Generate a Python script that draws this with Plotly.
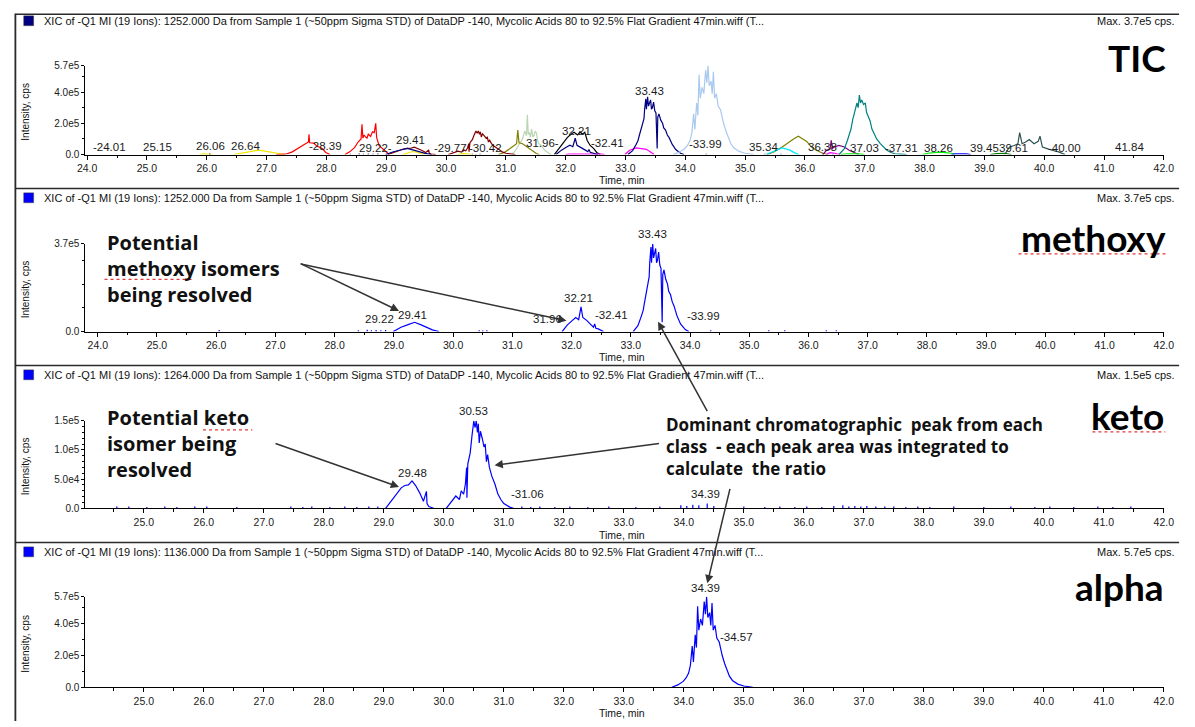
import plotly.graph_objects as go

W, H = 1195, 727

# ======================= DATA =======================
# Methoxy XIC (1252.000 Da) -- also the navy trace in the TIC
methoxy_t = [28.99, 29.12, 29.24, 29.35, 29.46, 29.57, 29.65, 29.76, None,
             31.84, 31.93, 32.01, 32.07, 32.12, 32.16, 32.19, 32.26, 32.33, 32.37, 32.39, 32.41, 32.45, 32.54, None,
             33.04, 33.12, 33.18, 33.21, 33.23, 33.26, 33.29, 33.31, 33.32, 33.34, 33.35, 33.37, 33.385, 33.40,
             33.42, 33.435, 33.45, 33.47, 33.49, 33.51, 33.53, 33.54, 33.56, 33.59, 33.62, 33.64, 33.67, 33.70,
             33.73, 33.78, 33.84, 33.92, 33.98]
methoxy_i = [0, 1.8e4, 2.9e4, 3.9e4, 2.8e4, 1.5e4, 7e3, 0, None,
             0, 2.8e4, 4.6e4, 5.9e4, 5.0e4, 1.04e5, 5.9e4, 4.6e4, 2.8e4, 1.8e4, 3.2e4, 1.4e4, 1.1e4, 0, None,
             0, 2.5e4, 6.6e4, 9.0e4, 1.2e5, 1.6e5, 2.1e5, 2.3e5, 2.9e5, 3.56e5, 2.9e5, 3.7e5, 3.1e5, 3.35e5,
             3.5e5, 2.9e5, 3.0e5, 3.35e5, 2.8e5, 2.66e5, 3.9e4, 2.4e5, 2.6e5, 2.2e5, 2.0e5, 1.7e5, 1.56e5, 1.25e5,
             1.08e5, 6.6e4, 3.2e4, 8e3, 0]
methoxy_blip_t = [26.05, 28.40, 28.55, 28.62, 28.70, 28.78, 28.86, 30.44, 30.50, 30.57, 34.35, 35.33, 35.60, 36.30, 36.47]
methoxy_blip_i = [6e3, 5e3, 7e3, 5e3, 6e3, 5e3, 6e3, 5e3, 4e3, 5e3, 5e3, 5e3, 5e3, 5e3, 5e3]

# Keto XIC (1264.000 Da) -- also the maroon trace in the TIC
keto_t = [29.03, 29.16, 29.29, 29.35, 29.41, 29.47, 29.53, 29.60, 29.66, 29.71, 29.72, 29.75, 29.83, None,
          30.04, 30.12, 30.20, 30.26, 30.29, 30.33, 30.36, 30.38, 30.385, 30.40, 30.44, 30.47, 30.50, 30.52,
          30.54, 30.56, 30.575, 30.59, 30.61, 30.64, 30.67, 30.69, 30.71, 30.73, 30.76, 30.80, 30.85, 30.90,
          30.95, 31.00, 31.06, 31.10, 31.16]
keto_i = [0, 1.8e4, 3.5e4, 3.9e4, 4.0e4, 4.7e4, 3.9e4, 2.6e4, 1.2e4, 2.9e4, 8e3, 3e3, 0, None,
          0, 1.0e4, 2.1e4, 1.5e4, 3.0e4, 2.4e4, 4.2e4, 7.0e4, 1.8e4, 7.6e4, 9.5e4, 1.25e5, 1.5e5, 1.38e5,
          1.5e5, 1.3e5, 1.45e5, 1.12e5, 1.32e5, 1.2e5, 1.05e5, 1.1e5, 8.0e4, 9.2e4, 7.0e4, 5.5e4, 4.2e4, 2.5e4,
          1.5e4, 8e3, 4e3, 2e3, 0]
keto_blip_t = [24.55, 24.75, 25.05, 25.35, 25.55, 25.85, 26.05, 26.55, 27.45, 27.65, 27.80, 28.10, 28.35,
               28.55, 28.75, 28.90, 31.30, 31.45, 31.60, 31.85, 32.10, 32.40, 32.75, 33.20, 33.60, 33.95,
               34.05, 34.15, 34.25, 34.39, 34.50, 35.00, 35.35, 35.60, 35.85, 36.05, 36.30, 36.50, 36.65,
               36.75, 36.85, 36.95, 37.05, 37.20, 37.35, 37.50, 37.70, 37.90, 38.10, 38.50, 39.00, 39.45,
               39.85, 40.10, 40.50, 40.90, 41.15, 41.45]
keto_blip_i = [3e3, 3e3, 2e3, 3e3, 2e3, 3e3, 3e3, 2e3, 3e3, 2e3, 3e3, 2e3, 3e3,
               2e3, 3e3, 3e3, 3e3, 2e3, 3e3, 2e3, 3e3, 2e3, 3e3, 2e3, 3e3, 5e3,
               4e3, 6e3, 5e3, 8e3, 4e3, 3e3, 2e3, 3e3, 2e3, 3e3, 2e3, 4e3, 5e3,
               3e3, 4e3, 3e3, 4e3, 3e3, 3e3, 3e3, 2e3, 3e3, 2e3, 3e3, 2e3, 3e3,
               2e3, 3e3, 2e3, 3e3, 2e3, 3e3]

# Alpha XIC (1136.000 Da) -- also the light-blue trace in the TIC
alpha_t = [33.80, 33.90, 33.99, 34.04, 34.08, 34.11, 34.14, 34.16, 34.19, 34.21, 34.23, 34.25, 34.28,
           34.31, 34.34, 34.36, 34.38, 34.40, 34.43, 34.45, 34.47, 34.49, 34.52, 34.55, 34.59, 34.62,
           34.64, 34.68, 34.71, 34.76, 34.81, 34.90, 35.00, 35.15]
alpha_i = [0, 1.5e4, 3.7e4, 6.0e4, 8.9e4, 1.4e5, 2.6e5, 1.6e5, 3.3e5, 2.5e5, 5.1e5, 3.6e5, 4.3e5,
           3.9e5, 5.4e5, 4.6e5, 5.7e5, 4.4e5, 4.7e5, 3.9e5, 5.3e5, 3.6e5, 3.9e5, 3.1e5, 2.85e5, 2.3e5,
           2.0e5, 1.5e5, 1.2e5, 7e4, 4.3e4, 2.0e4, 8e3, 0]

# Other TIC ion traces
tic_yellow_t = [25.88, 25.95, 26.02, 26.10, None, 26.45, 26.55, 26.65, 26.75, 26.82, 26.88, 26.95, 27.02,
                27.10, 27.20, 27.30, None, 29.28, 29.36, 29.44, 29.50, 29.56, 29.64, None, 30.20, 30.28, 30.36, 30.42]
tic_yellow_i = [0, 4e3, 3e3, 0, None, 0, 8e3, 1.4e4, 2.2e4, 2.5e4, 2.8e4, 2.3e4, 1.8e4,
                1.0e4, 5e3, 0, None, 0, 1.2e4, 1.9e4, 1.6e4, 1.0e4, 0, None, 0, 6e3, 4e3, 0]
tic_red_t = [27.16, 27.25, 27.32, 27.43, 27.52, 27.60, 27.65, 27.70, 27.71, 27.72, 27.79, 27.84, 27.93,
             27.99, 28.06, None, 28.31, 28.39, 28.47, 28.53, 28.58, 28.595, 28.61, 28.63, 28.66, 28.68,
             28.70, 28.72, 28.74, 28.77, 28.80, 28.825, 28.84, 28.88, 28.94, 28.99, 29.05]
tic_red_i = [0, 3e3, 2e3, 1.7e4, 3.8e4, 5.8e4, 6.9e4, 8.0e4, 1.3e5, 7.5e4, 7.3e4, 5.4e4, 3.8e4,
             1.3e4, 0, None, 0, 1.7e4, 4.4e4, 8.0e4, 1.0e5, 1.94e5, 1.05e5, 1.25e5, 1.1e5, 1.05e5,
             1.3e5, 1.2e5, 1.15e5, 1.45e5, 1.4e5, 2.0e5, 1.1e5, 5.8e4, 3.8e4, 1.7e4, 0]
tic_sage_t = [31.10, 31.16, 31.21, 31.25, 31.28, 31.30, 31.32, 31.345, 31.36, 31.375, 31.39, 31.41,
              31.43, 31.45, 31.47, 31.49, 31.51, 31.53, 31.55, 31.59, 31.65, 31.72, 31.76]
tic_sage_i = [0, 2.5e4, 5.8e4, 8.5e4, 1.0e5, 1.3e5, 1.5e5, 1.2e5, 2.55e5, 1.3e5, 1.42e5, 1.1e5,
              1.63e5, 1.15e5, 1.2e5, 1.5e5, 1.4e5, 9.0e4, 6.9e4, 5.8e4, 2.7e4, 8e3, 0]
tic_olive_t = [30.88, 30.99, 31.07, 31.13, 31.18, 31.20, 31.22, 31.28, 31.35, 31.43, 31.51, 31.56, None,
               35.37, 35.48, 35.62, 35.73, 35.81, 35.89, 35.94, 36.03, 36.11, 36.19, 36.30, 36.38]
tic_olive_i = [0, 1.7e4, 3.8e4, 5.8e4, 6.9e4, 1.57e5, 7.5e4, 6.9e4, 4.8e4, 2.7e4, 6e3, 0, None,
               0, 1.7e4, 4.8e4, 8.0e4, 1.0e5, 1.17e5, 1.05e5, 8.4e4, 4.8e4, 2.7e4, 8e3, 0]
tic_black_t = [31.81, 31.89, 31.97, 32.03, 32.09, 32.14, 32.20, 32.24, 32.28, 32.32, 32.36, 32.41, 32.47, 32.52, 32.58]
tic_black_i = [0, 3.8e4, 8.0e4, 1.1e5, 1.3e5, 1.42e5, 1.25e5, 1.46e5, 1.3e5, 1.42e5, 9.0e4, 5.8e4, 3.8e4, 1.3e4, 0]
tic_magenta_t = [32.00, 32.05, 32.60, 32.65, None, 32.99, 33.07, 33.18, 33.26, 33.35, 33.43, 33.48, None,
                 36.36, 36.42, 36.50, 36.58]
tic_magenta_i = [0, 3e3, 3e3, 0, None, 0, 2.7e4, 4.2e4, 3.8e4, 3.3e4, 1.3e4, 0, None,
                 0, 1.2e4, 8e3, 0]
tic_cyan_t = [35.35, 35.45, 35.55, 35.62, 35.68, 35.75, 35.82, 35.90]
tic_cyan_i = [0, 1.5e4, 3.0e4, 4.2e4, 3.6e4, 2.8e4, 1.2e4, 0]
tic_purple_t = [36.30, 36.36, 36.42, 36.44, 36.46, 36.49, 36.57, 36.66, 36.74, 36.82, 36.90]
tic_purple_i = [0, 2.7e4, 3.5e4, 9.0e4, 3.8e4, 4.8e4, 5.8e4, 4.8e4, 2.7e4, 1.3e4, 0]
tic_teal_t = [36.57, 36.66, 36.71, 36.77, 36.80, 36.84, 36.87, 36.89, 36.91, 36.93, 36.95, 36.98, 37.01,
              37.03, 37.06, 37.09, 37.12, 37.16, 37.20, 37.26, 37.31, 37.37, 37.44, 37.50, 37.60, 37.70]
tic_teal_i = [0, 3.8e4, 9.0e4, 1.63e5, 2.25e5, 2.9e5, 3.3e5, 3.0e5, 3.8e5, 3.3e5, 3.5e5, 3.2e5, 3.3e5,
              2.7e5, 2.46e5, 2.15e5, 1.63e5, 1.3e5, 1.0e5, 6.9e4, 4.8e4, 2.7e4, 1.3e4, 5e3, 3e3, 0]
tic_lime_t = [36.60, 36.70, 36.90, 37.00, None, 37.97, 38.05, 38.15, 38.25, 38.35, 38.45, 38.50]
tic_lime_i = [0, 4e3, 4e3, 0, None, 0, 8e3, 1.2e4, 1.5e4, 1.2e4, 8e3, 0]
tic_blue_t = [38.45, 38.50, 38.70, 38.77]
tic_blue_i = [0, 4e3, 4e3, 0]
tic_dkgreen_t = [39.10, 39.20, 39.35, 39.45]
tic_dkgreen_i = [0, 6e3, 8e3, 0]
tic_slate_t = [39.34, 39.42, 39.50, 39.56, 39.59, 39.63, 39.69, 39.75, 39.83, 39.90, 39.93, 39.97,
               40.05, 40.13, 40.24, 40.35]
tic_slate_i = [0, 4.8e4, 5.8e4, 6.9e4, 1.4e5, 6.9e4, 8.0e4, 9.6e4, 6.9e4, 8.4e4, 1.17e5, 4.8e4,
               3.8e4, 2.7e4, 1.7e4, 0]

# start-of-trace markers (time, intensity) per panel
start_marker_t = [23.92, 23.74, 23.975, 23.975]
start_marker_i = [3.0e4, 2.1e4, 8.5e3, 3.1e4]

# peak retention-time labels (text, time, intensity)
tic_labels = [("-24.01", 24.38, 5.0e4), ("25.15", 25.18, 5.0e4), ("26.06", 26.06, 5.6e4),
              ("26.64", 26.65, 5.6e4), ("-28.39", 27.98, 5.6e4), ("29.22-", 28.82, 4.4e4),
              ("29.41", 29.40, 9.4e4), ("-29.77", 30.08, 4.4e4), ("-30.42", 30.66, 4.4e4),
              ("31.96-", 31.62, 7.5e4), ("32.21", 32.18, 1.5e5), ("-32.41", 32.70, 7.5e4),
              ("33.43", 33.41, 4.09e5), ("-33.99", 34.33, 6.5e4), ("35.34", 35.31, 5.0e4),
              ("36.38", 36.30, 5.0e4), ("37.03", 36.99, 4.4e4), ("-37.31", 37.61, 4.4e4),
              ("38.26", 38.24, 4.4e4), ("39.45", 39.01, 4.4e4), ("39.61", 39.49, 4.4e4),
              ("-40.00", 40.34, 4.4e4), ("41.84", 41.42, 5.0e4)]
methoxy_labels = [("29.22", 28.75, 5.4e4), ("29.41", 29.32, 7.0e4), ("31.96", 31.60, 5.1e4),
                  ("32.21", 32.12, 1.41e5), ("-32.41", 32.68, 7.0e4), ("33.43", 33.36, 4.11e5),
                  ("-33.99", 34.22, 6.6e4)]
keto_labels = [("29.48", 29.47, 6.0e4), ("30.53", 30.50, 1.66e5), ("-31.06", 31.40, 2.4e4),
               ("34.39", 34.36, 2.4e4)]
alpha_labels = [("34.39", 34.36, 6.26e5), ("-34.57", 34.88, 3.16e5)]

x_ticks = list(range(24, 43))
x_ticktext = [f"{v}.0" for v in x_ticks]

headers = ["XIC of -Q1 MI (19 Ions): 1252.000 Da from Sample 1 (~50ppm Sigma STD) of DataDP -140, Mycolic Acids 80 to 92.5% Flat Gradient 47min.wiff (T...",
           "XIC of -Q1 MI (19 Ions): 1252.000 Da from Sample 1 (~50ppm Sigma STD) of DataDP -140, Mycolic Acids 80 to 92.5% Flat Gradient 47min.wiff (T...",
           "XIC of -Q1 MI (19 Ions): 1264.000 Da from Sample 1 (~50ppm Sigma STD) of DataDP -140, Mycolic Acids 80 to 92.5% Flat Gradient 47min.wiff (T...",
           "XIC of -Q1 MI (19 Ions): 1136.000 Da from Sample 1 (~50ppm Sigma STD) of DataDP -140, Mycolic Acids 80 to 92.5% Flat Gradient 47min.wiff (T..."]
max_texts = ["Max. 3.7e5 cps.", "Max. 3.7e5 cps.", "Max. 1.5e5 cps.", "Max. 5.7e5 cps."]
panel_names = ["TIC", "methoxy", "keto", "alpha"]

# ======================= LAYOUT HELPERS =======================
def px(x):
    return x / W

def py(y):
    return 1 - y / H

def with_blips(t, i, bt, bi):
    tt, ii = list(t), list(i)
    for a, b in zip(bt, bi):
        tt += [None, a, a]
        ii += [None, 0, b]
    return tt, ii

fig = go.Figure()

def add_line(t, i, color, n, width=1.2):
    xa = "x" if n == 1 else f"x{n}"
    ya = "y" if n == 1 else f"y{n}"
    fig.add_trace(go.Scatter(x=t, y=i, mode="lines", line=dict(color=color, width=width),
                             xaxis=xa, yaxis=ya, hoverinfo="skip", showlegend=False,
                             connectgaps=False))

meth_t, meth_i = with_blips(methoxy_t, methoxy_i, methoxy_blip_t, methoxy_blip_i)
ket_t, ket_i = with_blips(keto_t, keto_i, keto_blip_t, keto_blip_i)

# TIC panel
add_line(tic_yellow_t, tic_yellow_i, "#f2e600", 1)
add_line(tic_red_t, tic_red_i, "#ff0000", 1)
add_line(tic_sage_t, tic_sage_i, "#b9d6b3", 1)
add_line(tic_olive_t, tic_olive_i, "#808000", 1)
add_line(keto_t, keto_i, "#800000", 1)
add_line(tic_black_t, tic_black_i, "#000000", 1)
add_line(tic_magenta_t, tic_magenta_i, "#ff00ff", 1)
add_line(meth_t, meth_i, "#000080", 1)
add_line(alpha_t, alpha_i, "#a9c9ee", 1)
add_line(tic_cyan_t, tic_cyan_i, "#00e5ff", 1)
add_line(tic_purple_t, tic_purple_i, "#800080", 1)
add_line(tic_teal_t, tic_teal_i, "#008080", 1)
add_line(tic_lime_t, tic_lime_i, "#00ee00", 1)
add_line(tic_blue_t, tic_blue_i, "#0000ff", 1)
add_line(tic_dkgreen_t, tic_dkgreen_i, "#008000", 1)
add_line(tic_slate_t, tic_slate_i, "#2f5252", 1)
# XIC panels
add_line(meth_t, meth_i, "#0000ff", 2)
add_line(ket_t, ket_i, "#0000ff", 3)
add_line(alpha_t, alpha_i, "#0000ff", 4)

marker_colors = ["#000080", "#0000ff", "#0000ff", "#0000ff"]
for n in range(4):
    fig.add_trace(go.Scatter(x=[start_marker_t[n]], y=[start_marker_i[n]], mode="markers",
                             marker=dict(symbol="triangle-right", size=9, color=marker_colors[n]),
                             xaxis="x" if n == 0 else f"x{n+1}", yaxis="y" if n == 0 else f"y{n+1}",
                             cliponaxis=False, hoverinfo="skip", showlegend=False))

# panel geometry (pixel rows): plot top, baseline
plot_rows = [(60.5, 151.0), (241.7, 331.0), (421.7, 510.7), (600.7, 692.7)]
x_ranges = [[23.97, 42.0], [23.79, 42.0], [24.025, 42.0], [24.025, 42.0]]
y_ranges = [[0, 5.7e5], [0, 3.7e5], [0, 1.5e5], [0, 5.7e5]]
y_tickvals = [[0, 2e5, 4e5, 5.7e5], [0, 3.7e5], [0, 5e4, 1e5, 1.5e5], [0, 2e5, 4e5, 5.7e5]]
y_ticktext = [["0.0", "2.0e5", "4.0e5", "5.7e5"], ["0.0", "3.7e5"],
              ["0.0", "5.0e4", "1.0e5", "1.5e5"], ["0.0", "2.0e5", "4.0e5", "5.7e5"]]
y_minor = [1e5, 1e5, 1e4, 1e5]

tickfont = dict(family="Liberation Sans, Arial, sans-serif", size=10.5, color="#1a1a1a")
layout = dict(width=W, height=H, margin=dict(l=0, r=0, t=0, b=0),
              paper_bgcolor="white", plot_bgcolor="white", showlegend=False)
for n in range(4):
    top, base = plot_rows[n]
    xk = "xaxis" if n == 0 else f"xaxis{n+1}"
    yk = "yaxis" if n == 0 else f"yaxis{n+1}"
    ya = "y" if n == 0 else f"y{n+1}"
    xa = "x" if n == 0 else f"x{n+1}"
    layout[xk] = dict(domain=[px(78.5), px(1173.5)], range=x_ranges[n], anchor=ya,
                      tickmode="array", tickvals=x_ticks, ticktext=x_ticktext,
                      ticks="outside", ticklen=4, tickwidth=1, tickcolor="black",
                      showline=True, linecolor="black", linewidth=1, showgrid=False, zeroline=False,
                      tickfont=tickfont, fixedrange=True,
                      minor=dict(ticks="outside", ticklen=2.5, tickmode="linear", tick0=24, dtick=0.5,
                                 tickcolor="black", showgrid=False))
    layout[yk] = dict(domain=[py(base), py(top)], range=y_ranges[n], anchor=xa,
                      tickmode="array", tickvals=y_tickvals[n], ticktext=y_ticktext[n],
                      ticks="outside", ticklen=3, tickwidth=1, tickcolor="black",
                      showline=True, linecolor="black", linewidth=1, showgrid=False, zeroline=False,
                      tickfont=dict(family="Liberation Sans, Arial, sans-serif", size=10, color="#1a1a1a"),
                      fixedrange=True,
                      minor=dict(ticks="outside", ticklen=2, tickmode="linear", tick0=0, dtick=y_minor[n],
                                 tickcolor="black", showgrid=False))
fig.update_layout(**layout)

annotations = []
shapes = []
label_font = dict(family="Liberation Sans, Arial, sans-serif", size=11.5, color="#1a1a1a")
all_labels = [tic_labels, methoxy_labels, keto_labels, alpha_labels]
for n in range(4):
    xa = "x" if n == 0 else f"x{n+1}"
    ya = "y" if n == 0 else f"y{n+1}"
    top, base = plot_rows[n]
    ymax = y_ranges[n][1]
    for txt, t, v in all_labels[n]:
        # labels above the axis top are anchored at the top and lifted in pixels
        yv = min(v, ymax)
        shift = (v - yv) / ymax * (base - top)
        annotations.append(dict(text=txt, x=t, y=yv, yshift=shift, xref=xa, yref=ya, showarrow=False,
                                xanchor="center", yanchor="middle", font=label_font))

header_rows = [15, 195, 375, 555]
sep_rows = [8.5, 185.5, 365.5, 545.5]
title_rows = [176.5, 356.5, 537.5, 719]
big_rows = [(52, 1178), (235, 1178), (416.5, 1176), (590, 1176)]
for n in range(4):
    top, base = plot_rows[n]
    annotations.append(dict(text=headers[n], x=px(35), y=py(header_rows[n]), xref="paper", yref="paper",
                            showarrow=False, xanchor="left", yanchor="middle",
                            font=dict(family="Liberation Sans, Arial, sans-serif", size=11, color="#111")))
    annotations.append(dict(text=max_texts[n], x=px(1187), y=py(header_rows[n]), xref="paper", yref="paper",
                            showarrow=False, xanchor="right", yanchor="middle",
                            font=dict(family="Liberation Sans, Arial, sans-serif", size=11, color="#111")))
    annotations.append(dict(text="Time, min", x=px(598), y=py(title_rows[n]), xref="paper", yref="paper",
                            showarrow=False, xanchor="left", yanchor="middle",
                            font=dict(family="Liberation Sans, Arial, sans-serif", size=10.5, color="#111")))
    annotations.append(dict(text="Intensity, cps", x=px(18), y=py((top + base) / 2 + 2), xref="paper", yref="paper",
                            showarrow=False, textangle=-90, xanchor="center", yanchor="middle",
                            font=dict(family="Liberation Sans, Arial, sans-serif", size=10, color="#111")))
    by, bx = big_rows[n]
    annotations.append(dict(text=f"<b>{panel_names[n]}</b>", x=px(bx), y=py(by), xref="paper", yref="paper",
                            showarrow=False, xanchor="right", yanchor="middle",
                            font=dict(family="Lato, Open Sans, sans-serif", size=37, color="#000")))
    shapes.append(dict(type="line", xref="paper", yref="paper", x0=px(7), x1=px(1189),
                       y0=py(sep_rows[n]), y1=py(sep_rows[n]), line=dict(color="#2a2a2a", width=1.5)))
    shapes.append(dict(type="rect", xref="paper", yref="paper", x0=px(16), x1=px(26),
                       y0=py(header_rows[n] + 5), y1=py(header_rows[n] - 5),
                       fillcolor=marker_colors[n], line=dict(color="#333", width=0.5)))

shapes.append(dict(type="line", xref="paper", yref="paper", x0=px(7.5), x1=px(7.5), y0=py(8), y1=py(727),
                   line=dict(color="#2a2a2a", width=1.8)))

# spell-check squiggles
for x0, x1, yy in [(1026, 1177, 252), (1101, 1175, 433), (98, 188, 278), (198, 248, 431)]:
    shapes.append(dict(type="line", xref="paper", yref="paper", x0=px(x0), x1=px(x1), y0=py(yy), y1=py(yy),
                       line=dict(color="#e23b3b", width=1.3, dash="dot")))

note_font = dict(family="Open Sans, sans-serif", size=20, color="#111")
annotations.append(dict(text="<b>Potential<br>methoxy isomers<br>being resolved</b>", x=px(98), y=py(267),
                        xref="paper", yref="paper", showarrow=False, xanchor="left", yanchor="middle",
                        align="left", font=note_font))
annotations.append(dict(text="<b>Potential keto<br>isomer being<br>resolved</b>", x=px(98), y=py(445),
                        xref="paper", yref="paper", showarrow=False, xanchor="left", yanchor="middle",
                        align="left", font=note_font))
nb = "\u00a0"
annotations.append(dict(text=f"<b>Dominant chromatographic {nb}peak from each<br>class {nb}- each peak area was integrated to<br>calculate {nb}the ratio</b>",
                        x=px(666), y=py(448), xref="paper", yref="paper", showarrow=False,
                        xanchor="left", yanchor="middle", align="left",
                        font=dict(family="Open Sans, sans-serif", size=17, color="#111")))

# arrows: (head_x, head_y, tail_x, tail_y) in pixels
arrows = [(397, 310, 297, 262), (567, 320, 300, 263), (660, 321, 710, 412),
          (494, 467, 660, 445), (710, 587, 733, 491), (397, 489, 272, 445)]
for hx, hy, tx, ty in arrows:
    annotations.append(dict(text="", x=px(hx), y=py(hy), xref="paper", yref="paper",
                            showarrow=True, ax=tx - hx, ay=ty - hy, axref="pixel", ayref="pixel",
                            arrowhead=2, arrowsize=1.1, arrowwidth=1.5, arrowcolor="#333", standoff=0))

fig.update_layout(annotations=annotations, shapes=shapes)
fig.write_html("out.html")
